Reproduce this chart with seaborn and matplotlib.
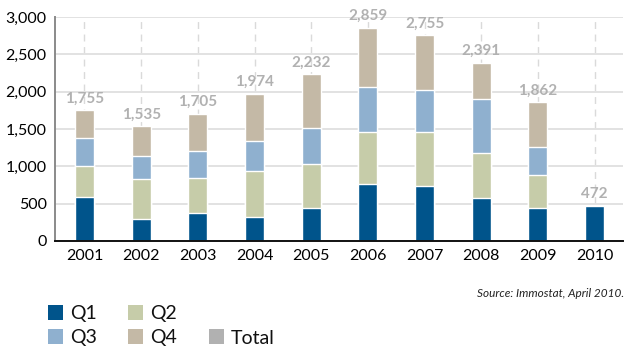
import matplotlib
matplotlib.use("Agg")
import matplotlib.pyplot as plt
from matplotlib.patches import Rectangle
import numpy as np
import pandas as pd
import seaborn as sns

years = ["2001", "2002", "2003", "2004", "2005", "2006", "2007", "2008", "2009", "2010"]
q1 = [590, 295, 375, 320, 440, 760, 735, 575, 440, 472]
q2 = [420, 530, 465, 615, 585, 705, 720, 600, 440, 0]
q3 = [365, 320, 360, 400, 495, 600, 570, 730, 375, 0]
q4 = [380, 390, 505, 639, 712, 794, 730, 486, 607, 0]
series_names = ["Q1", "Q2", "Q3", "Q4"]
colors = {"Q1": "#00548b", "Q2": "#c6cca9", "Q3": "#8fb0cf", "Q4": "#c4b9a6", "Total": "#b1b1b1"}

df = pd.DataFrame({"year": years, "Q1": q1, "Q2": q2, "Q3": q3, "Q4": q4})
cum = df[series_names].cumsum(axis=1)
df["Total"] = cum["Q4"]

sns.set_theme(style="white")
plt.rcParams["font.family"] = ["Lato", "DejaVu Sans"]

W, H = 627, 348
fig = plt.figure(figsize=(W / 100, H / 100), dpi=100)
ax = fig.add_axes([0.0877, 0.3075, 0.9059, 0.6435])

# stacked bars: draw cumulative heights from the top segment down
for name in reversed(series_names):
    sns.barplot(x=df["year"], y=cum[name], color=colors[name], width=0.335,
                saturation=1, ax=ax, zorder=3)

# total labels above each stack
for i, tot in enumerate(df["Total"]):
    ax.text(i, tot + 60, f"{tot:,}", ha="center", va="bottom",
            color=colors["Total"], fontsize=11, fontweight="bold", zorder=4)

ax.set_xlim(-0.52, 9.5)
ax.set_ylim(0, 3000)
ax.set_yticks(np.arange(0, 3001, 500))
ax.set_yticklabels([f"{v:,}" for v in range(0, 3001, 500)], fontsize=11.5, color="#000000")
ax.tick_params(axis="x", labelsize=11.5, colors="#000000", length=0, pad=6)
ax.tick_params(axis="y", length=0, pad=6)
ax.set_xlabel("")
ax.set_ylabel("")

ax.yaxis.grid(True, color="#e2e2e2", linewidth=1.4, zorder=0)
for i in range(len(years)):
    ax.axvline(i, color="#dadada", linewidth=1.0, linestyle=(0, (5, 4)), zorder=0)

for s in ["top", "right"]:
    ax.spines[s].set_visible(False)
ax.spines["left"].set_color("#8a8a8a")
ax.spines["left"].set_linewidth(1.4)
ax.spines["bottom"].set_color("#111111")
ax.spines["bottom"].set_linewidth(1.4)
ax.spines["left"].set_zorder(5)
ax.spines["bottom"].set_zorder(5)

fig.text(0.995, 0.158, "Source: Immostat, April 2010.", ha="right", va="center",
         fontsize=8.5, style="italic", color="#222222")

# legend: two rows of colour keys, Total sitting in the second row
legend_items = [("Q1", 48, 305), ("Q2", 128, 305), ("Q3", 48, 329), ("Q4", 128, 329), ("Total", 209, 329)]
sq = 15
for label, px, py in legend_items:
    fig.patches.append(Rectangle((px / W, 1 - (py + sq) / H), sq / W, sq / H,
                                 transform=fig.transFigure, facecolor=colors[label],
                                 edgecolor="none"))
    fig.text((px + sq + 7) / W, 1 - (py + sq / 2) / H, label, ha="left", va="center_baseline",
             fontsize=14, color="#111111")

fig.savefig("out.png", dpi=100)
